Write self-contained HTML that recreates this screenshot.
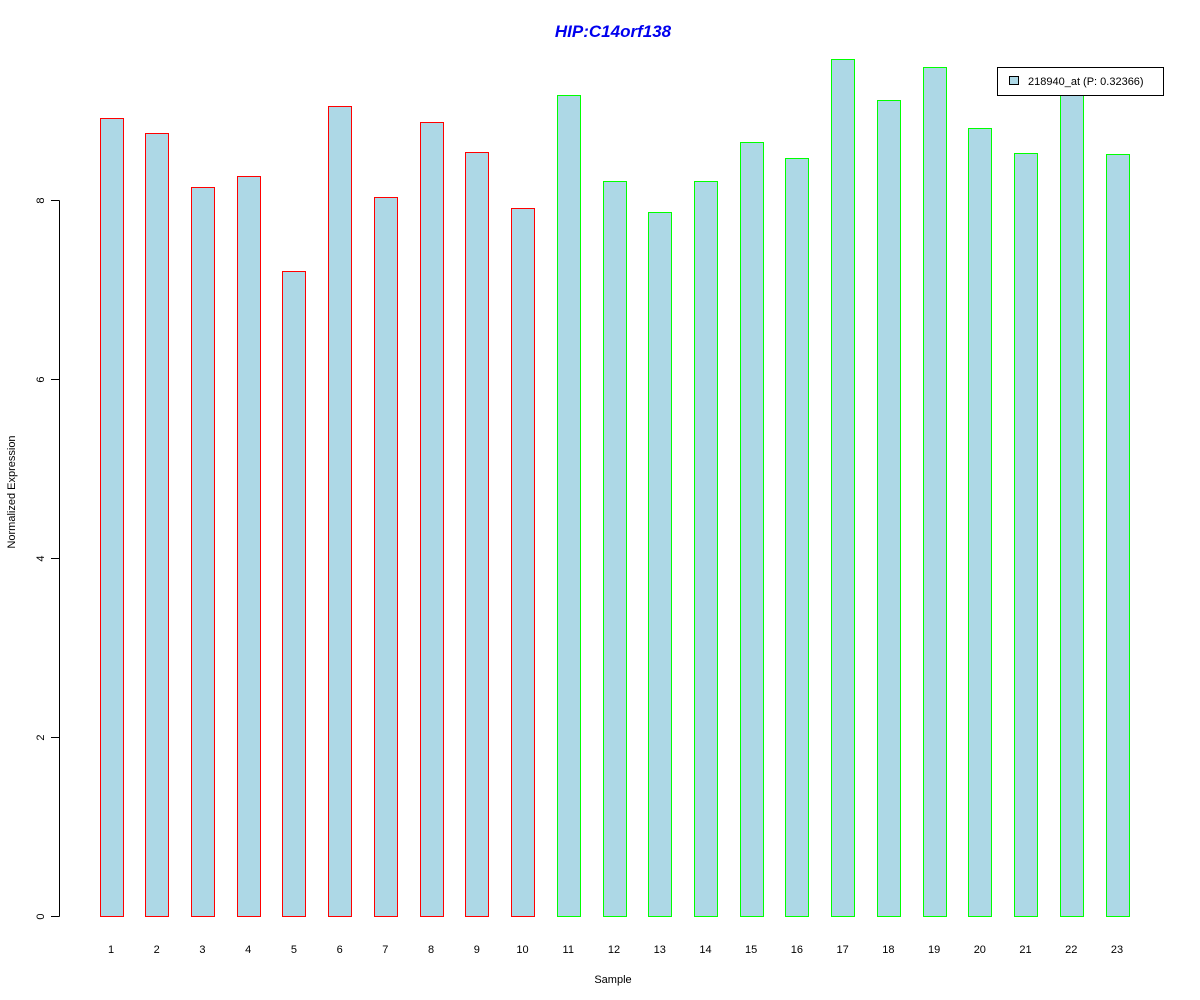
<!DOCTYPE html>
<html><head><meta charset="utf-8"><style>
html,body{margin:0;padding:0;background:#fff;}
svg{display:block;font-family:"Liberation Sans",Arial,sans-serif;}
</style></head><body>
<svg id="chart" width="1200" height="1000" viewBox="0 0 1200 1000">
<text x="613" y="37" text-anchor="middle" font-size="17" font-weight="bold" font-style="italic" fill="#0000ee">HIP:C14orf138</text>
<g id="bars"></g>
<g id="yaxis"></g>
<g id="xlabels"></g>
<text x="613" y="983" text-anchor="middle" font-size="11">Sample</text>
<text transform="translate(15,492) rotate(-90)" text-anchor="middle" font-size="11">Normalized Expression</text>
<g>
<rect x="997.5" y="67.5" width="166" height="28" fill="#fff" stroke="#000"/>
<rect x="1009.5" y="76.5" width="9" height="8" fill="#add8e6" stroke="#000"/>
<text x="1028" y="85" font-size="11">218940_at (P: 0.32366)</text>
</g>
</svg>
<script>
const categories = ["1","2","3","4","5","6","7","8","9","10","11","12","13","14","15","16","17","18","19","20","21","22","23"];
const values = [8.92,8.75,8.15,8.27,7.21,9.05,8.03,8.87,8.54,7.91,9.17,8.21,7.87,8.21,8.65,8.47,9.58,9.12,9.49,8.80,8.53,9.3,8.51];
const groups = ["a","a","a","a","a","a","a","a","a","a","b","b","b","b","b","b","b","b","b","b","b","b","b"];
const yTicks = [0,2,4,6,8];
const NS = "http://www.w3.org/2000/svg";
function yScale(v){ return 916 - v * 89.5; }
function xScale(i){ return 111 + i * (1117 - 111) / (categories.length - 1); }
const bars = document.getElementById('bars');
const xl = document.getElementById('xlabels');
values.forEach((v,i)=>{
  const r = document.createElementNS(NS,'rect');
  const x = Math.round(xScale(i) - 11.5) + 0.5;
  const top = Math.round(yScale(v)) + 0.5;
  r.setAttribute('x', x);
  r.setAttribute('y', top);
  r.setAttribute('width', 23);
  r.setAttribute('height', 916.5 - top);
  r.setAttribute('fill', '#add8e6');
  r.setAttribute('stroke', groups[i] === 'a' ? '#ff0000' : '#00ff00');
  
  
  bars.appendChild(r);
  const t = document.createElementNS(NS,'text');
  t.setAttribute('x', xScale(i));
  t.setAttribute('y', 953);
  t.setAttribute('text-anchor', 'middle');
  t.setAttribute('font-size', '11');
  t.textContent = categories[i];
  
  
  xl.appendChild(t);
});
const ya = document.getElementById('yaxis');
const line = document.createElementNS(NS,'line');
line.setAttribute('x1', 59.5); line.setAttribute('x2', 59.5);
line.setAttribute('y1', Math.round(yScale(yTicks[0]))+0.5);
line.setAttribute('y2', Math.round(yScale(yTicks[yTicks.length-1]))+0.5);
line.setAttribute('stroke', '#000');


ya.appendChild(line);
yTicks.forEach(v=>{
  const y = Math.round(yScale(v)) + 0.5;
  const tk = document.createElementNS(NS,'line');
  tk.setAttribute('x1', 51); tk.setAttribute('x2', 59.5);
  tk.setAttribute('y1', y); tk.setAttribute('y2', y);
  tk.setAttribute('stroke', '#000');
  
  
  ya.appendChild(tk);
  const t = document.createElementNS(NS,'text');
  t.setAttribute('transform', 'translate(44,' + y + ') rotate(-90)');
  t.setAttribute('text-anchor', 'middle');
  t.setAttribute('font-size', '11');
  t.textContent = v;
  
  
  ya.appendChild(t);
});
</script>
</body></html>
